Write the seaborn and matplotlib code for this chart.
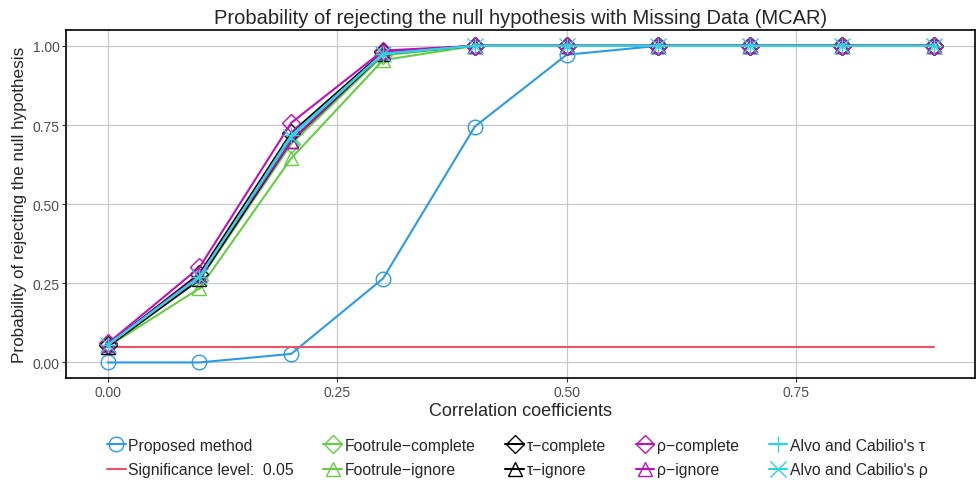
import numpy as np
import pandas as pd
import seaborn as sns
import matplotlib.pyplot as plt

# correlation coefficients on the x axis
corr = [0.0, 0.1, 0.2, 0.3, 0.4, 0.5, 0.6, 0.7, 0.8, 0.9]

# rejection rates
proposed = [0.0, 0.0, 0.027, 0.265, 0.745, 0.972, 1.0, 1.0, 1.0, 1.0]
signif = [0.05] * 10
foot_complete = [0.055, 0.26, 0.69, 0.97, 1.0, 1.0, 1.0, 1.0, 1.0, 1.0]
foot_ignore = [0.05, 0.234, 0.645, 0.955, 1.0, 1.0, 1.0, 1.0, 1.0, 1.0]
tau_complete = [0.055, 0.28, 0.725, 0.98, 1.0, 1.0, 1.0, 1.0, 1.0, 1.0]
tau_ignore = [0.05, 0.262, 0.70, 0.975, 1.0, 1.0, 1.0, 1.0, 1.0, 1.0]
rho_complete = [0.06, 0.30, 0.757, 0.985, 1.0, 1.0, 1.0, 1.0, 1.0, 1.0]
rho_ignore = [0.055, 0.275, 0.70, 0.98, 1.0, 1.0, 1.0, 1.0, 1.0, 1.0]
alvo_tau = [0.055, 0.27, 0.718, 0.975, 1.0, 1.0, 1.0, 1.0, 1.0, 1.0]
alvo_rho = [0.055, 0.27, 0.713, 0.975, 1.0, 1.0, 1.0, 1.0, 1.0, 1.0]

series = [
    ("Proposed method", proposed, "#2B9BE8", "o"),
    ("Significance level:  0.05", signif, "#E8536B", None),
    ("Footrule\u2212complete", foot_complete, "#66CC44", "D"),
    ("Footrule\u2212ignore", foot_ignore, "#66CC44", "^"),
    ("\u03c4\u2212complete", tau_complete, "#000000", "D"),
    ("\u03c4\u2212ignore", tau_ignore, "#000000", "^"),
    ("\u03c1\u2212complete", rho_complete, "#BB11BB", "D"),
    ("\u03c1\u2212ignore", rho_ignore, "#BB11BB", "^"),
    ("Alvo and Cabilio's \u03c4", alvo_tau, "#2ED3E0", "+"),
    ("Alvo and Cabilio's \u03c1", alvo_rho, "#2ED3E0", "x"),
]

sns.set_style("white")
plt.rcParams['font.family'] = ['Liberation Sans', 'DejaVu Sans']

fig = plt.figure(figsize=(9.76, 4.85), dpi=100)
ax = fig.add_axes([0.068, 0.218, 0.931, 0.718])

for name, vals, col, mk in series:
    size = 10.5 if mk in ("o", "^") else 9
    if mk in ("+", "x"):
        size = 11
    sns.lineplot(x=corr, y=vals, ax=ax, color=col, linewidth=1.5,
                 marker=mk, markersize=size, markerfacecolor="none",
                 markeredgecolor=col, markeredgewidth=1.0, label=name)

ax.set_xlim(-0.045, 0.945)
ax.set_ylim(-0.05, 1.05)
ax.set_xticks([0, 0.25, 0.5, 0.75])
ax.set_xticklabels(["0.00", "0.25", "0.50", "0.75"])
ax.set_yticks([0, 0.25, 0.5, 0.75, 1.0])
ax.set_yticklabels(["0.00", "0.25", "0.50", "0.75", "1.00"])
ax.grid(True, color="#C8C8C8", linewidth=0.9)
ax.set_axisbelow(True)
for sp in ax.spines.values():
    sp.set_color("black")
    sp.set_linewidth(1.2)
ax.tick_params(axis="both", length=3, color="#333333", labelsize=10,
               labelcolor="#4D4D4D", direction="out", bottom=True, left=True, pad=2)

ax.set_xlabel("Correlation coefficients", fontsize=13, labelpad=2)
ax.set_ylabel("Probability of rejecting the null hypothesis", fontsize=12.3, labelpad=4)
ax.set_title("Probability of rejecting the null hypothesis with Missing Data (MCAR)",
             fontsize=14.5, pad=5)

handles, labels = ax.get_legend_handles_labels()
ax.legend_.remove()
fig.legend(handles, labels, loc="lower center", bbox_to_anchor=(0.53, -0.015),
           ncol=5, frameon=False, fontsize=11.3, handlelength=1.2,
           handletextpad=0.15, columnspacing=1.9, labelspacing=0.6)

fig.savefig("out.png", dpi=100)
